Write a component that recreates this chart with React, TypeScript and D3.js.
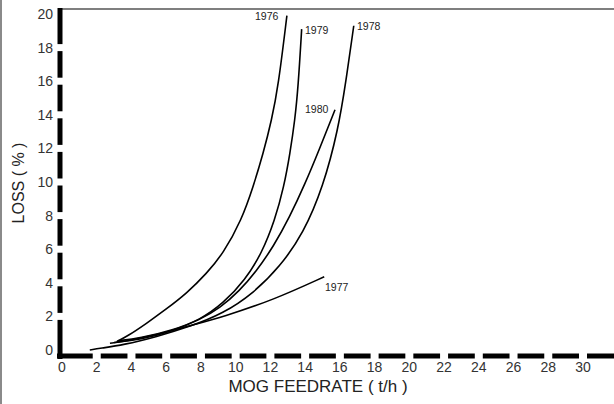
import * as d3 from 'd3';

// MOG feedrate (t/h) vs loss (%)
const s1976: [number, number][] = [
  [3.15, 0.5], [3.72, 0.79], [4.88, 1.59], [5.93, 2.38], [7.18, 3.37], [8.33, 4.56],
  [9.29, 5.75], [10.34, 7.74], [11.01, 9.72], [11.59, 11.71], [12.07, 13.69],
  [12.45, 15.67], [12.95, 19.9],
];
const s1979: [number, number][] = [
  [3.2, 0.55], [4.49, 0.7], [6.4, 1.19], [7.94, 1.79], [9.29, 2.78], [10.54, 4.17],
  [11.5, 5.75], [12.26, 7.74], [12.78, 9.72], [13.13, 11.71], [13.41, 13.69],
  [13.6, 15.67], [13.8, 19.1],
];
const s1978: [number, number][] = [
  [1.6, 0.0], [2.19, 0.1], [3.53, 0.3], [5.45, 0.79], [7.37, 1.39], [9.29, 2.18],
  [11.01, 3.37], [12.55, 4.96], [13.9, 6.94], [15.04, 9.72], [15.9, 13.1],
  [16.35, 16.0], [16.8, 19.3],
];
const s1980: [number, number][] = [
  [3.0, 0.45], [4.5, 0.6], [6.4, 1.15], [7.94, 1.8], [9.1, 2.5], [10.2, 3.5],
  [11.2, 4.7], [12.2, 6.2], [13.1, 7.9], [14.0, 9.9], [14.8, 11.9], [15.72, 14.3],
];
const s1977: [number, number][] = [
  [2.76, 0.4], [3.53, 0.5], [5.45, 0.89], [7.37, 1.45], [9.29, 1.98], [12.17, 2.98],
  [15.1, 4.36],
];

const series = [
  { name: '1976', pts: s1976, lx: 255, ly: 20 },
  { name: '1979', pts: s1979, lx: 305, ly: 34 },
  { name: '1978', pts: s1978, lx: 357, ly: 30 },
  { name: '1980', pts: s1980, lx: 305, ly: 113 },
  { name: '1977', pts: s1977, lx: 325, ly: 291 },
];

const xTicks = d3.range(0, 31, 2);
const yTicks = d3.range(0, 21, 2);

const W = 614;
const H = 404;

export default function App() {
  const x = d3.scaleLinear().domain([0, 30]).range([62, 583]);
  const y = d3.scaleLinear().domain([0, 20]).range([350, 14]);

  // traced curves: a B-spline keeps them smooth like the hand-drawn originals
  const line = d3
    .line<[number, number]>()
    .x((d) => x(d[0]))
    .y((d) => y(d[1]))
    .curve(d3.curveBasis);

  // thick dashed axes: gaps sit on the tick positions
  const gap = 8;
  const xAxisY = 356;
  const yAxisX = 60;
  const xGaps = xTicks.filter((t) => t > 0).map((t) => x(t));
  const xEdges = [57, ...xGaps.flatMap((g) => [g - gap / 2, g + gap / 2]), W];
  const xSegs = d3.range(0, xEdges.length, 2).map((i) => [xEdges[i], xEdges[i + 1]]);
  const yGaps = yTicks.filter((t) => t > 0 && t < 20).map((t) => y(t));
  const yEdges = [359, ...yGaps.flatMap((g) => [g + 3.5, g - 3.5]), 8];
  const ySegs = d3.range(0, yEdges.length, 2).map((i) => [yEdges[i], yEdges[i + 1]]);

  const font = '"Liberation Sans", Arial, sans-serif';

  return (
    <>
      <style>{'body{margin:0}'}</style>
      <svg width={W} height={H} style={{ display: 'block', background: '#fff' }}>
        <line x1={1} y1={0} x2={1} y2={H} stroke="#8a8a8a" strokeWidth={2} />
        <line x1={62} y1={9} x2={W} y2={9} stroke="#555" strokeWidth={1.5} />

        {xSegs.map(([a, b], i) => (
          <line key={'xs' + i} x1={a} x2={b} y1={xAxisY} y2={xAxisY} stroke="#000" strokeWidth={5} />
        ))}
        {ySegs.map(([a, b], i) => (
          <line key={'ys' + i} x1={yAxisX} x2={yAxisX} y1={a} y2={b} stroke="#000" strokeWidth={5} />
        ))}

        {xTicks.map((t) => (
          <text key={'xt' + t} x={x(t)} y={372} textAnchor="middle" fontFamily={font} fontSize={14} fill="#333">
            {t}
          </text>
        ))}
        {yTicks.map((t) => (
          <text key={'yt' + t} x={53} y={y(t) + 5} textAnchor="end" fontFamily={font} fontSize={14} fill="#333">
            {t}
          </text>
        ))}

        <text x={318} y={392} textAnchor="middle" fontFamily={font} fontSize={17} fill="#222">
          MOG FEEDRATE ( t/h )
        </text>
        <text
          transform="translate(24,183) rotate(-90)"
          textAnchor="middle"
          fontFamily={font}
          fontSize={16}
          fill="#222"
        >
          LOSS ( % )
        </text>

        {series.map((s) => (
          <g key={s.name}>
            <path d={line(s.pts) ?? ''} fill="none" stroke="#000" strokeWidth={1.6} />
            <text x={s.lx} y={s.ly} fontFamily={font} fontSize={10.5} fill="#222">
              {s.name}
            </text>
          </g>
        ))}
      </svg>
    </>
  );
}
